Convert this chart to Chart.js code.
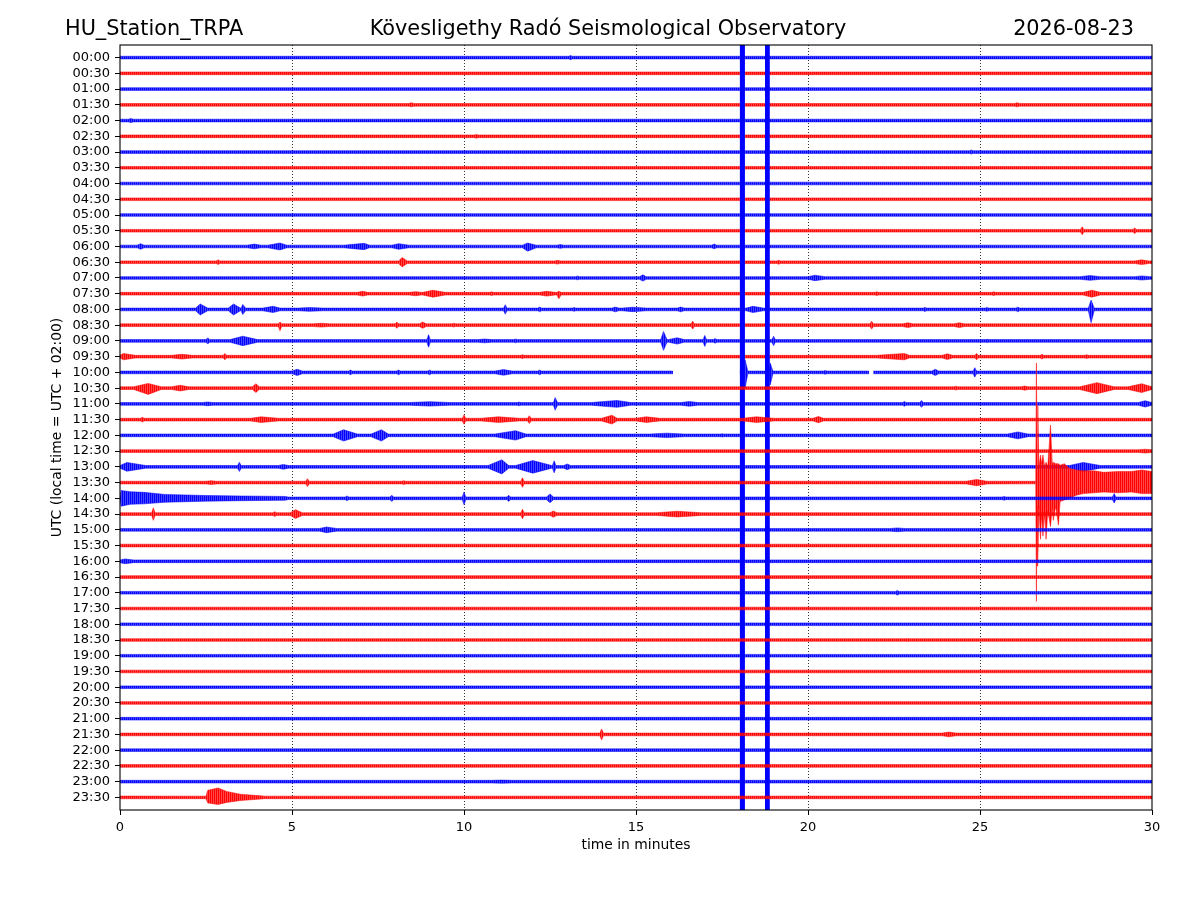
<!DOCTYPE html>
<html>
<head>
<meta charset="utf-8">
<title>HU_Station_TRPA helicorder</title>
<script src="https://cdn.jsdelivr.net/npm/chart.js@4.4.1/dist/chart.umd.min.js"></script>
<style>
  html, body { margin: 0; padding: 0; background: #fff; }
  #wrap { width: 1200px; height: 900px; }
</style>
</head>
<body>
<div id="wrap"><canvas id="heli" width="1200" height="900"></canvas></div>
<script>
// row labels, top to bottom (one trace per half hour)
const timeLabels = [
  "00:00", "00:30", "01:00", "01:30", "02:00", "02:30", "03:00", "03:30",
  "04:00", "04:30", "05:00", "05:30", "06:00", "06:30", "07:00", "07:30",
  "08:00", "08:30", "09:00", "09:30", "10:00", "10:30", "11:00", "11:30",
  "12:00", "12:30", "13:00", "13:30", "14:00", "14:30", "15:00", "15:30",
  "16:00", "16:30", "17:00", "17:30", "18:00", "18:30", "19:00", "19:30",
  "20:00", "20:30", "21:00", "21:30", "22:00", "22:30", "23:00", "23:30"
];
const stationName = "HU_Station_TRPA";
const observatory = "Kövesligethy Radó Seismological Observatory";
const dayLabel = "2026-08-23";
const xTitle = "time in minutes";
const yTitle = "UTC (local time = UTC + 02:00)";
const traceColors = [[0, 0, 255], [255, 0, 0]];

// background noise half-amplitude, in trace spacings
const baseNoise = 0.085;

// bursts: [trace, start min, peak min, end min, up, down]
const bursts = [
  [0, 13.05, 13.1, 13.15, 0.13],
  [3, 8.4, 8.46, 8.55, 0.13], [3, 26.0, 26.08, 26.15, 0.13],
  [4, 0.25, 0.3, 0.4, 0.13],
  [5, 10.3, 10.36, 10.42, 0.12],
  [6, 24.7, 24.75, 24.8, 0.13],
  [11, 27.92, 27.97, 28.02, 0.25], [11, 29.45, 29.5, 29.55, 0.18],
  [12, 0.5, 0.6, 0.7, 0.18], [12, 3.7, 3.9, 4.1, 0.15], [12, 4.3, 4.65, 4.85, 0.22],
  [12, 6.5, 7.1, 7.25, 0.2], [12, 7.9, 8.1, 8.4, 0.18], [12, 11.7, 11.85, 12.1, 0.22, 0.3],
  [12, 12.7, 12.8, 12.9, 0.12], [12, 17.2, 17.27, 17.35, 0.15],
  [13, 2.8, 2.85, 2.9, 0.15], [13, 8.1, 8.2, 8.35, 0.3], [13, 12.65, 12.7, 12.8, 0.12],
  [13, 19.1, 19.15, 19.2, 0.13], [13, 29.5, 29.7, 29.9, 0.15],
  [14, 13.25, 13.3, 13.35, 0.12], [14, 15.1, 15.2, 15.3, 0.2], [14, 20.0, 20.2, 20.5, 0.17],
  [14, 27.9, 28.2, 28.5, 0.15], [14, 29.5, 29.7, 29.95, 0.13],
  [15, 6.9, 7.05, 7.2, 0.15], [15, 8.4, 8.6, 8.75, 0.13], [15, 8.8, 9.1, 9.45, 0.22],
  [15, 10.75, 10.8, 10.85, 0.12], [15, 12.2, 12.4, 12.65, 0.15], [15, 12.7, 12.76, 12.82, 0.15, 0.32],
  [15, 21.95, 22.0, 22.05, 0.12], [15, 25.35, 25.4, 25.45, 0.12], [15, 28.0, 28.25, 28.5, 0.22],
  [16, 2.2, 2.33, 2.55, 0.35], [16, 3.15, 3.3, 3.5, 0.35], [16, 3.52, 3.57, 3.65, 0.32],
  [16, 4.15, 4.45, 4.65, 0.2], [16, 5.2, 5.5, 5.9, 0.12], [16, 11.15, 11.2, 11.25, 0.3],
  [16, 12.15, 12.2, 12.25, 0.15], [16, 13.15, 13.2, 13.25, 0.12], [16, 14.3, 14.4, 14.5, 0.15],
  [16, 14.6, 14.9, 15.3, 0.14], [16, 16.2, 16.3, 16.4, 0.15], [16, 18.2, 18.4, 18.7, 0.2],
  [16, 23.35, 23.4, 23.45, 0.13], [16, 25.15, 25.2, 25.25, 0.12], [16, 26.05, 26.1, 26.15, 0.15],
  [16, 28.15, 28.23, 28.32, 0.6, 0.85],
  [17, 4.6, 4.65, 4.7, 0.2, 0.35], [17, 5.6, 5.85, 6.1, 0.12], [17, 8.0, 8.05, 8.1, 0.2],
  [17, 8.7, 8.8, 8.9, 0.2], [17, 9.65, 9.7, 9.75, 0.12], [17, 16.6, 16.65, 16.7, 0.25],
  [17, 21.8, 21.85, 21.9, 0.25], [17, 22.75, 22.9, 23.05, 0.15], [17, 24.25, 24.4, 24.55, 0.15],
  [18, 2.5, 2.55, 2.6, 0.2], [18, 3.2, 3.57, 4.0, 0.3], [18, 8.92, 8.97, 9.02, 0.4],
  [18, 10.4, 10.6, 10.8, 0.12], [18, 11.45, 11.5, 11.55, 0.12], [18, 15.72, 15.8, 15.9, 0.6],
  [18, 15.95, 16.2, 16.4, 0.2], [18, 16.95, 17.0, 17.05, 0.35], [18, 17.25, 17.3, 17.35, 0.15],
  [18, 18.95, 19.0, 19.05, 0.3], [18, 25.15, 25.2, 25.25, 0.1],
  [19, 0.0, 0.1, 0.45, 0.2], [19, 1.5, 1.8, 2.1, 0.15], [19, 3.0, 3.05, 3.1, 0.2],
  [19, 11.65, 11.7, 11.75, 0.12], [19, 22.0, 22.8, 22.95, 0.2], [19, 23.9, 24.05, 24.2, 0.18],
  [19, 24.85, 24.9, 24.95, 0.2], [19, 26.75, 26.8, 26.85, 0.15], [19, 28.05, 28.1, 28.15, 0.12],
  [20, 5.0, 5.15, 5.3, 0.2], [20, 6.65, 6.7, 6.75, 0.15], [20, 8.05, 8.1, 8.15, 0.15],
  [20, 8.95, 9.0, 9.05, 0.15], [20, 10.9, 11.15, 11.4, 0.18], [20, 12.15, 12.2, 12.25, 0.15],
  [20, 18.15, 18.17, 18.25, 0.8, 1.0], [20, 18.87, 18.9, 18.98, 0.6, 0.8],
  [20, 20.45, 20.5, 20.55, 0.12], [20, 23.6, 23.7, 23.8, 0.2], [20, 24.8, 24.85, 24.9, 0.3],
  [21, 0.4, 0.82, 1.2, 0.3, 0.4], [21, 1.5, 1.75, 2.0, 0.18], [21, 3.85, 3.95, 4.05, 0.28],
  [21, 24.25, 24.3, 24.35, 0.12], [21, 26.2, 26.3, 26.4, 0.13], [21, 27.9, 28.4, 28.9, 0.35],
  [21, 29.3, 29.7, 30.0, 0.28],
  [22, 2.4, 2.55, 2.7, 0.12], [22, 8.4, 9.0, 9.6, 0.14], [22, 11.55, 11.6, 11.65, 0.12],
  [22, 12.6, 12.65, 12.72, 0.4], [22, 13.7, 14.45, 14.85, 0.22], [22, 16.3, 16.55, 16.8, 0.15],
  [22, 22.75, 22.8, 22.85, 0.15], [22, 23.25, 23.3, 23.35, 0.22], [22, 29.6, 29.8, 30.0, 0.2],
  [23, 0.6, 0.65, 0.7, 0.15], [23, 3.8, 4.1, 4.6, 0.18], [23, 9.95, 10.0, 10.05, 0.3],
  [23, 10.5, 11.0, 11.6, 0.18], [23, 11.85, 11.9, 11.95, 0.25], [23, 14.0, 14.3, 14.45, 0.28],
  [23, 15.0, 15.3, 15.7, 0.18], [23, 18.1, 18.5, 19.0, 0.18], [23, 20.15, 20.3, 20.45, 0.2],
  [24, 6.2, 6.5, 6.9, 0.36], [24, 7.3, 7.6, 7.8, 0.36], [24, 10.9, 11.5, 11.8, 0.3],
  [24, 15.4, 15.9, 16.4, 0.14], [24, 17.45, 17.5, 17.55, 0.1], [24, 25.8, 26.1, 26.4, 0.22],
  [25, 29.6, 29.8, 30.0, 0.12],
  [26, 0.0, 0.2, 0.75, 0.28], [26, 3.42, 3.47, 3.52, 0.3], [26, 4.6, 4.75, 4.9, 0.15],
  [26, 10.7, 11.1, 11.3, 0.45], [26, 11.5, 12.0, 12.55, 0.4], [26, 12.57, 12.62, 12.67, 0.38],
  [26, 12.9, 13.0, 13.1, 0.18], [26, 27.6, 28.0, 28.5, 0.28],
  [27, 2.5, 2.65, 2.8, 0.12], [27, 5.4, 5.45, 5.5, 0.25], [27, 8.2, 8.25, 8.3, 0.12],
  [27, 11.65, 11.7, 11.75, 0.3], [27, 24.6, 24.9, 25.2, 0.2],
  [28, 6.55, 6.6, 6.65, 0.15], [28, 7.85, 7.9, 7.95, 0.2], [28, 9.95, 10.0, 10.05, 0.4],
  [28, 11.25, 11.3, 11.35, 0.2], [28, 12.4, 12.5, 12.6, 0.28], [28, 25.65, 25.7, 25.75, 0.12],
  [28, 28.85, 28.9, 28.95, 0.3],
  [29, 0.92, 0.97, 1.02, 0.4], [29, 4.45, 4.5, 4.55, 0.15], [29, 4.95, 5.1, 5.3, 0.28],
  [29, 11.65, 11.7, 11.75, 0.3], [29, 12.5, 12.6, 12.7, 0.2], [29, 15.6, 16.2, 16.9, 0.18],
  [30, 5.8, 6.0, 6.3, 0.18], [30, 22.4, 22.6, 22.8, 0.12],
  [32, 0.0, 0.15, 0.4, 0.15],
  [34, 22.55, 22.6, 22.65, 0.15],
  [37, 22.85, 22.9, 22.95, 0.1],
  [43, 13.95, 14.0, 14.05, 0.35], [43, 23.9, 24.1, 24.3, 0.15],
  [46, 10.8, 11.1, 11.4, 0.1]
];

// longer wave trains, envelope points: [minute, up, down]
const envelopes = [
  [27, [[26.62, 0.08, 0.08], [26.64, 7.6, 7.55], [26.66, 1.0, 1.5], [26.68, 4.9, 5.3],
        [26.71, 1.0, 1.5], [26.76, 1.75, 3.6], [26.79, 1.2, 2.0], [26.83, 1.75, 3.4],
        [26.88, 1.0, 2.0], [26.92, 1.3, 3.6], [26.97, 1.0, 1.8], [27.05, 3.65, 2.8],
        [27.1, 1.2, 1.6], [27.13, 1.3, 2.4], [27.2, 1.2, 1.5], [27.28, 1.2, 2.7],
        [27.33, 1.1, 1.2], [27.45, 1.2, 1.1], [27.6, 0.9, 1.0], [27.8, 0.8, 0.8],
        [28.0, 0.75, 0.7], [28.3, 0.75, 0.65], [28.6, 0.65, 0.6], [29.0, 0.7, 0.65],
        [29.4, 0.7, 0.6], [29.7, 0.8, 0.7], [30.0, 0.7, 0.7]]],
  [28, [[0.0, 0.08, 0.08], [0.03, 0.5, 0.5], [0.3, 0.42, 0.38], [0.7, 0.38, 0.35],
        [1.3, 0.25, 0.25], [2.5, 0.18, 0.18], [3.5, 0.15, 0.15], [4.8, 0.12, 0.12],
        [4.9, 0.08, 0.08]]],
  [47, [[2.5, 0.08, 0.08], [2.55, 0.45, 0.35], [2.85, 0.6, 0.45], [3.1, 0.38, 0.32],
        [3.5, 0.2, 0.2], [4.1, 0.1, 0.1], [4.2, 0.08, 0.08]]]
];

// off-scale spikes that run across the whole drum: [trace, start, end]
const clipped = [[20, 18.02, 18.15], [20, 18.75, 18.87]];
// missing data: [trace, from, to]
const gaps = [[20, 16.06, 18.02], [20, 21.76, 21.9]];

const OFF_SCALE = 60;

function traceItems(i) {
  const items = [];
  bursts.filter(b => b[0] === i).forEach(b => {
    const up = b[4], down = b.length > 5 ? b[5] : b[4];
    items.push([[b[1], baseNoise, baseNoise], [b[2], up, down], [b[3], baseNoise, baseNoise]]);
  });
  envelopes.filter(e => e[0] === i).forEach(e => items.push(e[1]));
  return items.sort((a, b) => a[0][0] - b[0][0]);
}

function segmentsOf(i) {
  let segs = [[0, 30]];
  gaps.filter(g => g[0] === i).forEach(g => {
    const out = [];
    segs.forEach(s => {
      if (g[2] <= s[0] || g[1] >= s[1]) { out.push(s); return; }
      if (g[1] > s[0]) out.push([s[0], g[1]]);
      if (g[2] < s[1]) out.push([g[2], s[1]]);
    });
    segs = out;
  });
  return segs;
}

// fine vertical hatch so that wide parts of a trace read as dense wiggles
function wigglePattern(rgb) {
  const c = document.createElement("canvas");
  c.width = 2; c.height = 1;
  const g = c.getContext("2d");
  g.fillStyle = "rgb(" + rgb.join(",") + ")";
  g.fillRect(0, 0, 1, 1);
  g.fillStyle = "rgba(" + rgb.join(",") + ",0.72)";
  g.fillRect(1, 0, 1, 1);
  return g.createPattern(c, "repeat");
}
const patterns = traceColors.map(wigglePattern);

const datasets = [];
timeLabels.forEach((lab, i) => {
  const rgb = traceColors[i % 2];
  const solid = "rgb(" + rgb.join(",") + ")";
  const items = traceItems(i);
  segmentsOf(i).forEach(seg => {
    let pts = [[seg[0], baseNoise, baseNoise]];
    items.forEach(it => {
      if (it[0][0] >= seg[0] - 1e-9 && it[it.length - 1][0] <= seg[1] + 1e-9) pts = pts.concat(it);
    });
    pts.push([seg[1], baseNoise, baseNoise]);
    const upper = pts.map(p => ({ x: p[0], y: i - p[1] }));
    const lower = pts.map(p => ({ x: p[0], y: i + p[2] })).reverse();
    datasets.push({
      label: lab,
      data: upper.concat(lower),
      borderColor: "rgba(" + rgb.join(",") + ",0.85)",
      backgroundColor: patterns[i % 2],
      borderWidth: 0.6,
      pointRadius: 0,
      tension: 0,
      fill: "shape",
      order: 100 - i
    });
  });
  // off-scale parts of this trace, clipped by the plot frame
  clipped.filter(c => c[0] === i).forEach(c => {
    datasets.push({
      label: lab + " clipped",
      data: [{ x: c[1], y: i - OFF_SCALE }, { x: c[2], y: i - OFF_SCALE },
             { x: c[2], y: i + OFF_SCALE }, { x: c[1], y: i + OFF_SCALE }],
      borderColor: solid,
      backgroundColor: solid,
      borderWidth: 0.6,
      pointRadius: 0,
      tension: 0,
      fill: "shape",
      order: 100 - i
    });
  });
});

const font = "DejaVu Sans";

const frameAndTitles = {
  id: "frameAndTitles",
  afterDatasetsDraw(chart) {
    const { ctx, chartArea: a } = chart;
    ctx.save();
    ctx.strokeStyle = "#000";
    ctx.lineWidth = 1.1;
    ctx.strokeRect(a.left, a.top, a.right - a.left, a.bottom - a.top);
    ctx.restore();
  },
  afterDraw(chart) {
    const { ctx, chartArea: a } = chart;
    ctx.save();
    ctx.fillStyle = "#000";
    ctx.font = "20.8px '" + font + "'";
    ctx.textBaseline = "alphabetic";
    ctx.textAlign = "left";
    ctx.fillText(stationName, 65, 35);
    ctx.textAlign = "center";
    ctx.fillText(observatory, 608, 35);
    ctx.textAlign = "right";
    ctx.fillText(dayLabel, 1134, 35);

    ctx.font = "13.9px '" + font + "'";
    ctx.textAlign = "center";
    ctx.textBaseline = "middle";
    ctx.fillText(xTitle, (a.left + a.right) / 2, 845);
    ctx.translate(57, (a.top + a.bottom) / 2);
    ctx.rotate(-Math.PI / 2);
    ctx.fillText(yTitle, 0, 0);
    ctx.restore();
  }
};

new Chart(document.getElementById("heli").getContext("2d"), {
  type: "line",
  data: { datasets: datasets },
  options: {
    responsive: false,
    animation: false,
    events: [],
    layout: { padding: { left: 0, right: 48, top: 45, bottom: 0 } },
    plugins: { legend: { display: false }, tooltip: { enabled: false }, title: { display: false } },
    scales: {
      x: {
        type: "linear",
        min: 0,
        max: 30,
        afterFit: (scale) => { scale.height = 90; },
        ticks: { stepSize: 5, color: "#000", font: { family: font, size: 13 }, padding: 5, maxRotation: 0 },
        grid: {
          color: (c) => (c.tick && (c.tick.value === 0 || c.tick.value === 30)) ? "rgba(0,0,0,0)" : "#000",
          lineWidth: 0.8,
          tickColor: "#000",
          tickWidth: 1,
          tickLength: 5
        },
        border: { display: false, dash: [1, 2] }
      },
      y: {
        type: "linear",
        reverse: true,
        min: -0.8,
        max: 47.8,
        afterFit: (scale) => { scale.width = 120; },
        afterBuildTicks: (scale) => { scale.ticks = timeLabels.map((_, i) => ({ value: i })); },
        ticks: {
          autoSkip: false,
          color: "#000",
          font: { family: font, size: 13 },
          padding: 5,
          callback: (v) => timeLabels[v] !== undefined ? timeLabels[v] : ""
        },
        grid: { drawOnChartArea: false, drawTicks: true, tickLength: 5, tickColor: "#000", tickWidth: 1 },
        border: { display: false }
      }
    }
  },
  plugins: [frameAndTitles]
});
</script>
</body>
</html>
